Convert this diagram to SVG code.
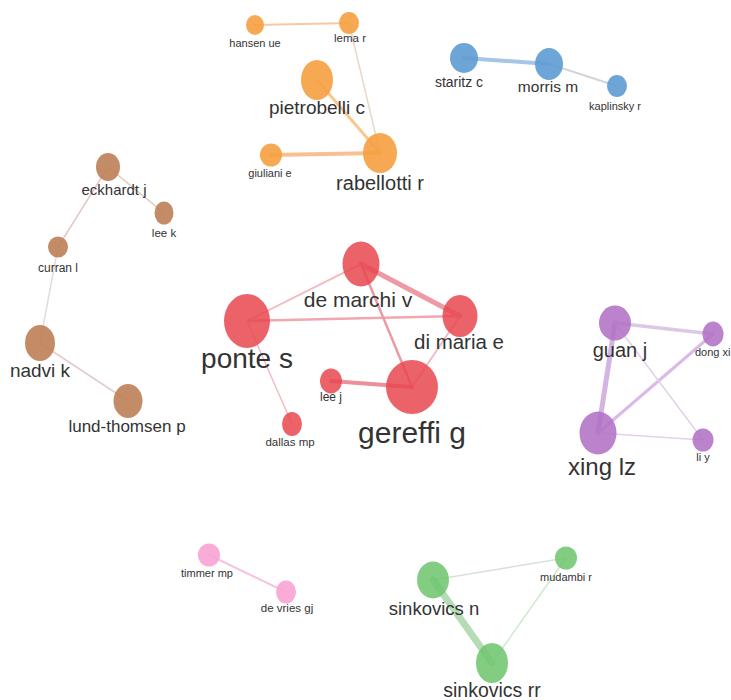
<svg xmlns="http://www.w3.org/2000/svg" width="731" height="700" viewBox="0 0 731 700">
<style>
text{font-family:"Liberation Sans",Arial,sans-serif;fill:#333;text-anchor:middle}
.or{fill:#F5A03F;opacity:.9}
.bl{fill:#5E9BD3;opacity:.9}
.br{fill:#BE8055;opacity:.9}
.rd{fill:#E8474F;opacity:.85}
.pu{fill:#B06DC4;opacity:.85}
.pk{fill:#F7A3D3;opacity:.9}
.gr{fill:#6CC46C;opacity:.85}
.e{fill:none;stroke-linecap:round}
</style>
<rect width="731" height="700" fill="#fff"/>
<g id="edges" class="e">
<line x1="255" y1="25" x2="349" y2="23" stroke="#F8C9A0" stroke-width="2"/>
<line x1="349" y1="23" x2="380" y2="153" stroke="#E9D8C8" stroke-width="1.5"/>
<line x1="317" y1="80" x2="380" y2="153" stroke="#F9C890" stroke-width="3"/>
<line x1="271" y1="155" x2="380" y2="153" stroke="#F8C090" stroke-width="4"/>
<line x1="464" y1="58" x2="549" y2="64" stroke="#A6C6E6" stroke-width="4"/>
<line x1="549" y1="64" x2="617" y2="86" stroke="#D0D6DC" stroke-width="2"/>
<line x1="108" y1="167" x2="164" y2="213" stroke="#E0C8C0" stroke-width="1.5"/>
<line x1="108" y1="167" x2="58" y2="247" stroke="#E6C6C6" stroke-width="1.5"/>
<line x1="58" y1="247" x2="40" y2="343" stroke="#E0DCDC" stroke-width="1.5"/>
<line x1="40" y1="343" x2="128" y2="401" stroke="#E2D0D0" stroke-width="2"/>
<line x1="247" y1="321" x2="361" y2="264" stroke="#F4BCC2" stroke-width="2"/>
<line x1="247" y1="321" x2="460" y2="316" stroke="#F2A6AE" stroke-width="2.5"/>
<line x1="361" y1="264" x2="460" y2="316" stroke="#EE9AA4" stroke-width="5"/>
<line x1="361" y1="264" x2="412" y2="387" stroke="#EE9AA4" stroke-width="2.5"/>
<line x1="460" y1="316" x2="412" y2="387" stroke="#F4BCC2" stroke-width="2"/>
<line x1="331" y1="381" x2="412" y2="387" stroke="#EE8E98" stroke-width="4"/>
<line x1="247" y1="321" x2="292" y2="424" stroke="#F4BCC2" stroke-width="1.5"/>
<line x1="615" y1="323" x2="713" y2="334" stroke="#DCC8E4" stroke-width="3.5"/>
<line x1="615" y1="323" x2="598" y2="433" stroke="#D6B4E2" stroke-width="5"/>
<line x1="598" y1="433" x2="713" y2="334" stroke="#DABAE6" stroke-width="3"/>
<line x1="615" y1="323" x2="703" y2="440" stroke="#E2D2E8" stroke-width="1.5"/>
<line x1="598" y1="433" x2="703" y2="440" stroke="#E2D2E8" stroke-width="1.5"/>
<line x1="209" y1="555" x2="286" y2="592" stroke="#F7C4E0" stroke-width="2"/>
<line x1="433" y1="580" x2="566" y2="558" stroke="#D6E2D6" stroke-width="1.5"/>
<line x1="433" y1="580" x2="492" y2="663" stroke="#B6DCB6" stroke-width="7"/>
<line x1="566" y1="558" x2="492" y2="663" stroke="#CCEACC" stroke-width="1.5"/>
</g>
<g id="hansen-ue"><ellipse class="or" cx="255" cy="25" rx="9" ry="10"/><text x="255" y="47" font-size="11">hansen ue</text></g>
<g id="lema-r"><ellipse class="or" cx="349" cy="23" rx="10" ry="11"/><text x="350" y="42" font-size="11.5">lema r</text></g>
<g id="pietrobelli-c"><ellipse class="or" cx="317" cy="80" rx="16" ry="20"/><text x="317" y="114" font-size="19">pietrobelli c</text></g>
<g id="giuliani-e"><ellipse class="or" cx="271" cy="155" rx="11" ry="11.5"/><text x="270" y="177" font-size="11">giuliani e</text></g>
<g id="rabellotti-r"><ellipse class="or" cx="380" cy="153" rx="17" ry="20"/><text x="380" y="190" font-size="20">rabellotti r</text></g>
<g id="staritz-c"><ellipse class="bl" cx="464" cy="58" rx="14" ry="15"/><text x="459" y="87" font-size="14">staritz c</text></g>
<g id="morris-m"><ellipse class="bl" cx="549" cy="64" rx="14" ry="16"/><text x="548" y="92" font-size="15.5">morris m</text></g>
<g id="kaplinsky-r"><ellipse class="bl" cx="617" cy="86" rx="10" ry="11"/><text x="615" y="110" font-size="11">kaplinsky r</text></g>
<g id="eckhardt-j"><ellipse class="br" cx="108" cy="167" rx="12" ry="14"/><text x="114" y="195" font-size="15">eckhardt j</text></g>
<g id="lee-k"><ellipse class="br" cx="164" cy="213" rx="9.5" ry="11.5"/><text x="164" y="237" font-size="11.5">lee k</text></g>
<g id="curran-l"><ellipse class="br" cx="58" cy="247" rx="10" ry="10.5"/><text x="58" y="272" font-size="12">curran l</text></g>
<g id="nadvi-k"><ellipse class="br" cx="40" cy="343" rx="15" ry="18"/><text x="40" y="377" font-size="19">nadvi k</text></g>
<g id="lund-thomsen-p"><ellipse class="br" cx="128" cy="401" rx="14.5" ry="17"/><text x="127" y="432" font-size="17">lund-thomsen p</text></g>
<g id="de-marchi-v"><ellipse class="rd" cx="361" cy="264" rx="18.5" ry="22.5"/><text x="358" y="307" font-size="21">de marchi v</text></g>
<g id="di-maria-e"><ellipse class="rd" cx="460" cy="316" rx="17.5" ry="21"/><text x="459" y="349" font-size="20.5">di maria e</text></g>
<g id="ponte-s"><ellipse class="rd" cx="247" cy="321" rx="23" ry="27"/><text x="247" y="368" font-size="28">ponte s</text></g>
<g id="lee-j"><ellipse class="rd" cx="331" cy="381" rx="11" ry="12.5"/><text x="331" y="401" font-size="12">lee j</text></g>
<g id="gereffi-g"><ellipse class="rd" cx="412" cy="387" rx="26" ry="27"/><text x="412" y="443" font-size="30">gereffi g</text></g>
<g id="dallas-mp"><ellipse class="rd" cx="292" cy="424" rx="10" ry="12"/><text x="290" y="446" font-size="11.5">dallas mp</text></g>
<g id="guan-j"><ellipse class="pu" cx="615" cy="323" rx="16" ry="17.5"/><text x="620" y="357" font-size="20">guan j</text></g>
<g id="dong-xi"><ellipse class="pu" cx="713" cy="334" rx="10.5" ry="12.5"/><text x="695" y="356" font-size="11" style="text-anchor:start">dong xi</text></g>
<g id="xing-lz"><ellipse class="pu" cx="598" cy="433" rx="18.5" ry="21.5"/><text x="602" y="475" font-size="24">xing lz</text></g>
<g id="li-y"><ellipse class="pu" cx="703" cy="440" rx="10.5" ry="11.5"/><text x="703" y="461" font-size="11">li y</text></g>
<g id="timmer-mp"><ellipse class="pk" cx="209" cy="555" rx="11" ry="11.5"/><text x="207" y="577" font-size="11">timmer mp</text></g>
<g id="de-vries-gj"><ellipse class="pk" cx="286" cy="592" rx="10" ry="11.5"/><text x="287" y="612" font-size="11.5">de vries gj</text></g>
<g id="sinkovics-n"><ellipse class="gr" cx="433" cy="580" rx="16" ry="18.5"/><text x="434" y="615" font-size="18.5">sinkovics n</text></g>
<g id="mudambi-r"><ellipse class="gr" cx="566" cy="558" rx="11" ry="11.5"/><text x="566" y="581" font-size="11">mudambi r</text></g>
<g id="sinkovics-rr"><ellipse class="gr" cx="492" cy="663" rx="16" ry="20"/><text x="492" y="697" font-size="19.5">sinkovics rr</text></g>
</svg>
